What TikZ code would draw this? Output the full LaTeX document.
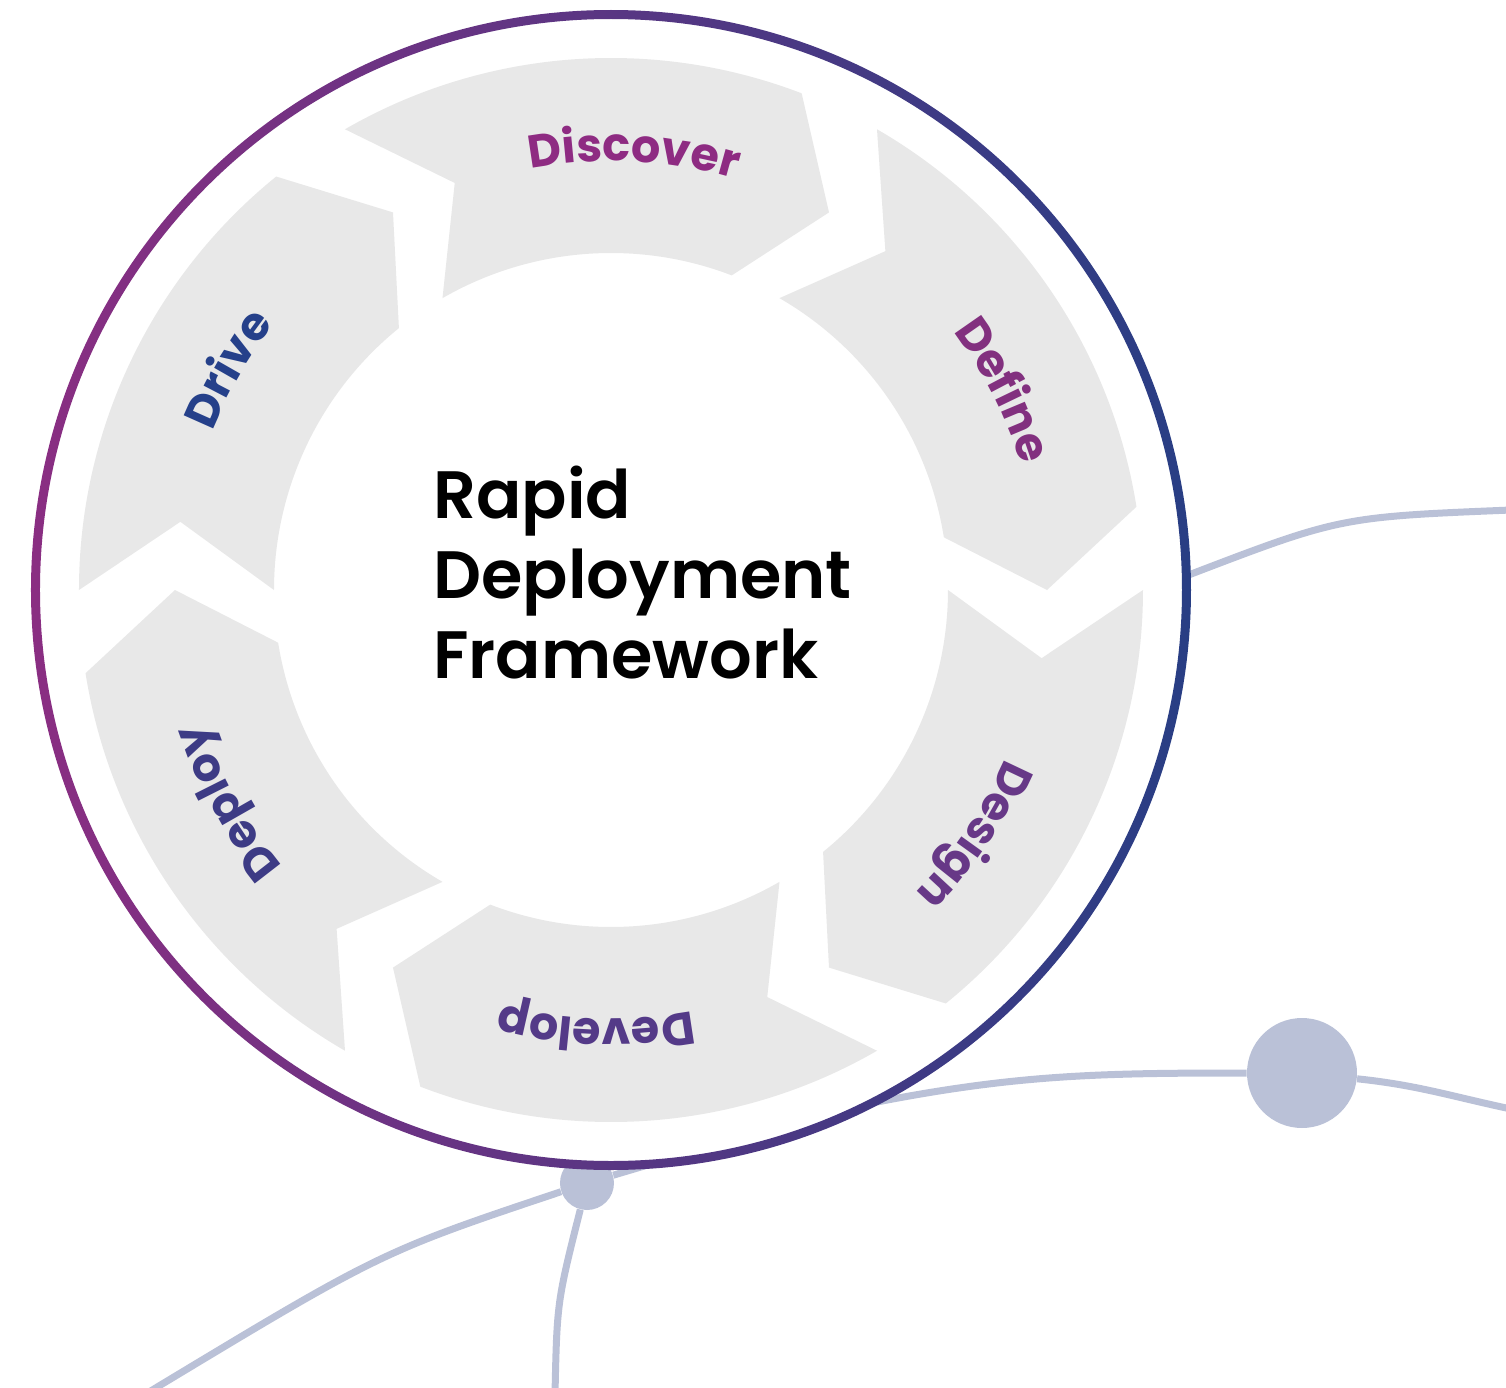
\documentclass[tikz,border=0pt]{standalone}
\usepackage{fontspec}
\setmainfont{Poppins}
\newfontfamily\titlefont{Poppins SemiBold}
\newfontfamily\labelfont{Poppins Bold}
\usetikzlibrary{decorations.text}
\definecolor{ringleft}{HTML}{8A2E82}
\definecolor{ringright}{HTML}{283E84}
\definecolor{segfill}{HTML}{E8E8E8}
\definecolor{linkcol}{HTML}{BAC1D7}
\definecolor{discovercol}{HTML}{8E2B82}
\definecolor{definecol}{HTML}{82307F}
\definecolor{designcol}{HTML}{673887}
\definecolor{developcol}{HTML}{543A88}
\definecolor{deploycol}{HTML}{3D3B85}
\definecolor{drivecol}{HTML}{25408A}
\begin{document}
\begin{tikzpicture}[x = 0.5pt, y = 0.5pt,
    link/.style = {draw = linkcol, line width = 3.5pt},
    dot/.style = {circle, fill = linkcol, inner sep = 0pt},
    segment/.style = {fill = segfill},
    arclabel/.style 2 args = {decorate, decoration = {text along path, text align = center,
        text color = #2, text = {|\labelfont\fontsize{23}{28}\selectfont|#1}}}]
    \pgfmathsetmacro{\rin}{337}
    \pgfmathsetmacro{\rout}{532}
    \pgfmathsetmacro{\rmid}{436}
    \pgfmathsetmacro{\rtext}{429}
    \useasboundingbox (-611, -798) rectangle (895, 590);

    \coordinate (upstart) at (575, 14);
    \coordinate (upend) at (900, 80);
    \coordinate (lowstart) at (266, -512);
    \coordinate (lowend) at (900, -519);
    \coordinate (leftend) at (-462, -802);
    \coordinate (downend) at (-56, -805);
    \coordinate (ringend) at (40, -574);
    \node [dot, minimum size = 55pt] (hub) at (691, -483) {};
    \node [dot, minimum size = 27pt] (knot) at (-24, -593) {};
    \draw [link] (upstart) .. controls (729, 73) .. (upend);
    \draw [link] (lowstart) to [out = 11, in = 180] (hub);
    \draw [link] (hub) to [out = -6, in = 168] (lowend);
    \draw [link] (knot) .. controls (-230, -662) .. (leftend);
    \draw [link] (knot) .. controls (-54, -712) .. (downend);
    \draw [link] (knot) -- (ringend);

    \fill [white] (0, 0) circle [radius = 575];
    \foreach \k in {0, ..., 5} {
        \pgfmathsetmacro{\a}{120 - 60*\k}
        \pgfmathsetmacro{\b}{69 - 60*\k}
        \fill [segment] (\a:\rout) arc [start angle = \a, end angle = \b, radius = \rout]
            -- (\b-9:\rmid) -- (\b:\rin) arc [start angle = \b, end angle = \a, radius = \rin]
            -- (\a-9:\rmid) -- cycle;
    }
    \shade [left color = ringleft, right color = ringright, even odd rule]
        (0, 0) circle [radius = 580] (0, 0) circle [radius = 571];

    \path [arclabel = {Discover}{discovercol}] (117:\rtext) arc [start angle = 117, end angle = 57, radius = \rtext];
    \path [arclabel = {Define}{definecol}] (57:\rtext) arc [start angle = 57, end angle = -3, radius = \rtext];
    \path [arclabel = {Design}{designcol}] (-4:\rtext) arc [start angle = -4, end angle = -64, radius = \rtext];
    \path [arclabel = {Develop}{developcol}] (-62:\rtext) arc [start angle = -62, end angle = -122, radius = \rtext];
    \path [arclabel = {Deploy}{deploycol}] (-121:\rtext) arc [start angle = -121, end angle = -181, radius = \rtext];
    \path [arclabel = {Drive}{drivecol}] (180:\rtext) arc [start angle = 180, end angle = 120, radius = \rtext];

    \node [anchor = north west, align = left, inner sep = 0pt,
        font = \titlefont\fontsize{33.5}{40}\selectfont] (title) at (-178, 124) {Rapid\\Deployment\\Framework};
\end{tikzpicture}
\end{document}
